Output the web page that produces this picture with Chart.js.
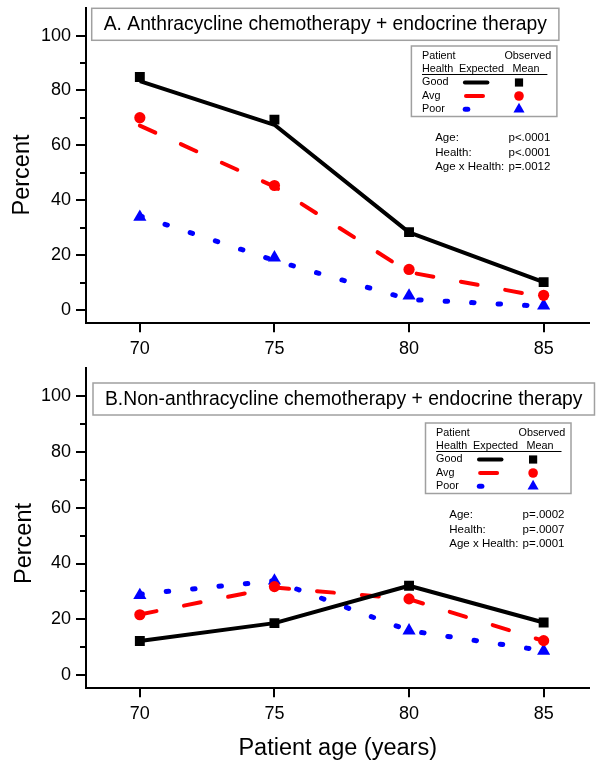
<!DOCTYPE html>
<html>
<head>
<meta charset="utf-8">
<title>Expected and observed percent by patient age and health</title>
<script src="https://cdn.jsdelivr.net/npm/chart.js@4.4.1/dist/chart.umd.min.js"></script>
<style>
  body { margin: 0; background: #fff; }
  #page { position: relative; width: 597px; height: 768px; overflow: hidden; }
  #panelA, #panelB { position: absolute; left: 0; }
  #panelA { top: 0; }
  #panelB { top: 360px; }
</style>
</head>
<body>
<div id="page">
  <canvas id="panelA" width="597" height="360"></canvas>
  <canvas id="panelB" width="597" height="408"></canvas>
</div>
<script>
const FONT = "'Liberation Sans', Arial, Helvetica, sans-serif";
Chart.defaults.font.family = FONT;
Chart.defaults.color = '#000';

// axes
const ages = [70, 75, 80, 85];
const yTicks = [0, 20, 40, 60, 80, 100];
const yMinorTicks = [10, 30, 50, 70, 90];
const healthGroups = ['Good', 'Avg', 'Poor'];

// A. Anthracycline chemotherapy + endocrine therapy
const anthGoodExpected = [83.4, 67.5, 28.3, 10.2];
const anthAvgExpected = [67.2, 45.0, 13.8, 4.8];
const anthPoorExpected = [34.3, 18.1, 3.9, 1.4];
const anthGoodObserved = [84.9, 69.4, 28.4, 10.2];
const anthAvgObserved = [70.1, 45.4, 14.8, 5.4];
const anthPoorObserved = [33.9, 19.1, 5.2, 1.6];
const anthStats = [['Age:', 'p<.0001'], ['Health:', 'p<.0001'], ['Age x Health:', 'p=.0012']];

// B. Non-anthracycline chemotherapy + endocrine therapy
const nonGoodExpected = [12.2, 18.6, 32.0, 18.8];
const nonAvgExpected = [21.7, 31.4, 27.2, 12.2];
const nonPoorExpected = [29.0, 33.8, 15.9, 8.7];
const nonGoodObserved = [12.2, 18.6, 32.0, 18.8];
const nonAvgObserved = [21.6, 31.7, 27.3, 12.3];
const nonPoorObserved = [28.6, 33.8, 15.9, 8.6];
const nonStats = [['Age:', 'p=.0002'], ['Health:', 'p=.0007'], ['Age x Health:', 'p=.0001']];

// one style per health group: Good, Avg, Poor
const groupStyle = [
  { color: '#000000', dash: [], width: 4, cap: 'butt', point: 'rect', radius: 7, legendRadius: 5.8 },
  { color: '#ff0000', dash: [17, 28], width: 4, cap: 'round', point: 'circle', radius: 5.6, legendRadius: 4.8 },
  { color: '#0000ff', dash: [2.5, 24], width: 5, cap: 'round', point: 'triangle', radius: 7.6, legendRadius: 6.4 }
];

const toPoints = vals => ages.map((a, i) => ({ x: a, y: vals[i] }));

// boxed title, legend table, p-values, minor ticks and y title
const panelDecor = {
  id: 'panelDecor',
  afterDraw(chart, args, o) {
    const ctx = chart.ctx;
    const yScale = chart.scales.y;
    ctx.save();

    ctx.strokeStyle = '#000';
    ctx.lineWidth = 2;
    yMinorTicks.forEach(v => {
      const py = Math.round(yScale.getPixelForValue(v));
      ctx.beginPath();
      ctx.moveTo(yScale.right - 6, py);
      ctx.lineTo(yScale.right, py);
      ctx.stroke();
    });

    ctx.fillStyle = '#000';
    ctx.save();
    ctx.translate(o.yTitleX, o.yTitleY);
    ctx.rotate(-Math.PI / 2);
    ctx.font = '23.5px ' + FONT;
    ctx.textAlign = 'center';
    ctx.textBaseline = 'middle';
    ctx.fillText('Percent', 0, 0);
    ctx.restore();

    // title box
    ctx.font = '19.3px ' + FONT;
    ctx.textBaseline = 'middle';
    ctx.textAlign = 'left';
    const tw = ctx.measureText(o.title).width;
    ctx.fillStyle = '#fff';
    ctx.fillRect(o.titleX, o.titleY, tw + 24, 32);
    ctx.strokeStyle = '#a0a0a0';
    ctx.lineWidth = 1.5;
    ctx.strokeRect(o.titleX, o.titleY, tw + 24, 32);
    ctx.fillStyle = '#000';
    ctx.fillText(o.title, o.titleX + 12, o.titleY + 16.5);

    // legend box
    const lx = o.legendX, ly = o.legendY;
    ctx.fillStyle = '#fff';
    ctx.fillRect(lx, ly, 145.5, 70.5);
    ctx.strokeStyle = '#a0a0a0';
    ctx.lineWidth = 1.5;
    ctx.strokeRect(lx, ly, 145.5, 70.5);
    ctx.fillStyle = '#000';
    ctx.font = '10.8px ' + FONT;
    ctx.textAlign = 'left';
    ctx.fillText('Patient', lx + 10.6, ly + 10.5);
    ctx.fillText('Health', lx + 10.6, ly + 23.5);
    ctx.fillText('Expected', lx + 47.6, ly + 23.5);
    ctx.fillText('Mean', lx + 101, ly + 23.5);
    ctx.textAlign = 'right';
    ctx.fillText('Observed', lx + 139.8, ly + 10.5);
    ctx.strokeStyle = '#000';
    ctx.lineWidth = 1;
    ctx.beginPath();
    ctx.moveTo(lx + 10.6, ly + 28.5);
    ctx.lineTo(lx + 136, ly + 28.5);
    ctx.stroke();

    const rowY = [36.5, 50, 63.2];
    const sampleFrom = [53.5, 54.6, 53.8];
    const sampleTo = [76, 71.6, 56.4];
    healthGroups.forEach((g, i) => {
      const st = groupStyle[i];
      const ry = ly + rowY[i];
      ctx.fillStyle = '#000';
      ctx.textAlign = 'left';
      ctx.fillText(g, lx + 10.6, ry);
      ctx.strokeStyle = st.color;
      ctx.lineWidth = st.width;
      ctx.lineCap = 'round';
      ctx.beginPath();
      ctx.moveTo(lx + sampleFrom[i], ry);
      ctx.lineTo(lx + sampleTo[i], ry);
      ctx.stroke();
      ctx.fillStyle = st.color;
      Chart.helpers.drawPoint(ctx, { pointStyle: st.point, radius: st.legendRadius, rotation: 0, borderWidth: 0 }, lx + 107.6, ry);
    });

    // p-values
    ctx.fillStyle = '#000';
    ctx.font = '11.5px ' + FONT;
    o.stats.forEach((row, i) => {
      const sy = ly + 92 + i * 14.5;
      ctx.textAlign = 'left';
      ctx.fillText(row[0], lx + 23.8, sy);
      ctx.textAlign = 'right';
      ctx.fillText(row[1], lx + 139, sy);
    });
    ctx.restore();
  }
};

function buildPanel(canvasId, expected, observed, decor, top, xHeight, xTitle) {
  const datasets = [];
  groupStyle.forEach((st, i) => {
    datasets.push({
      label: healthGroups[i] + ' observed',
      data: toPoints(observed[i]),
      showLine: false,
      pointStyle: st.point,
      pointRadius: st.radius,
      pointBackgroundColor: st.color,
      pointBorderWidth: 0,
      order: 0
    });
  });
  groupStyle.forEach((st, i) => {
    datasets.push({
      label: healthGroups[i] + ' expected',
      data: toPoints(expected[i]),
      showLine: true,
      fill: false,
      tension: 0,
      borderColor: st.color,
      borderWidth: st.width,
      borderDash: st.dash,
      borderCapStyle: st.cap,
      borderJoinStyle: 'round',
      pointRadius: 0,
      order: 1
    });
  });

  return new Chart(document.getElementById(canvasId), {
    type: 'line',
    data: { datasets: datasets },
    options: {
      responsive: false,
      animation: false,
      events: [],
      layout: { padding: { top: top, left: 0, right: 0, bottom: 0 } },
      plugins: {
        legend: { display: false },
        tooltip: { enabled: false },
        panelDecor: decor
      },
      scales: {
        x: {
          type: 'linear',
          min: 68,
          max: 86.7,
          afterBuildTicks: s => { s.ticks = ages.map(v => ({ value: v })); },
          afterFit: s => { s.height = xHeight; s.paddingLeft = 0; s.paddingRight = 0; },
          grid: { drawOnChartArea: false, drawTicks: true, tickLength: 9.3, tickColor: '#000', lineWidth: 2 },
          border: { display: true, color: '#000', width: 2 },
          ticks: { color: '#000', font: { size: 18 }, padding: 6, maxRotation: 0, autoSkip: false },
          title: {
            display: xTitle,
            text: 'Patient age (years)',
            color: '#000',
            font: { size: 23.5 },
            padding: { top: 0, bottom: 5.6 }
          }
        },
        y: {
          type: 'linear',
          min: -4.7,
          max: 110.2,
          afterBuildTicks: s => { s.ticks = yTicks.map(v => ({ value: v })); },
          afterFit: s => { s.width = 86; s.paddingTop = 0; s.paddingBottom = 0; },
          grid: { drawOnChartArea: false, drawTicks: true, tickLength: 10, tickColor: '#000', lineWidth: 2 },
          border: { display: true, color: '#000', width: 2 },
          ticks: { color: '#000', font: { size: 18 }, padding: 5 }
        }
      }
    },
    plugins: [panelDecor]
  });
}

buildPanel('panelA',
  [anthGoodExpected, anthAvgExpected, anthPoorExpected],
  [anthGoodObserved, anthAvgObserved, anthPoorObserved],
  { title: 'A. Anthracycline chemotherapy + endocrine therapy', titleX: 91.7, titleY: 8.3,
    legendX: 411.4, legendY: 46, stats: anthStats, yTitleX: 22.5, yTitleY: 175 },
  4, 37, false);

buildPanel('panelB',
  [nonGoodExpected, nonAvgExpected, nonPoorExpected],
  [nonGoodObserved, nonAvgObserved, nonPoorObserved],
  { title: 'B.Non-anthracycline chemotherapy + endocrine therapy', titleX: 93, titleY: 23,
    legendX: 425.5, legendY: 63, stats: nonStats, yTitleX: 24.3, yTitleY: 183.5 },
  8, 80, true);
</script>
</body>
</html>
